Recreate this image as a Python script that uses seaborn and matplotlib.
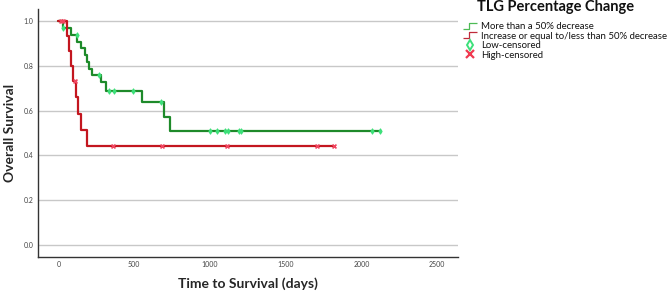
import numpy as np
import pandas as pd
import matplotlib
matplotlib.use("Agg")
import matplotlib.pyplot as plt
import seaborn as sns
from matplotlib.lines import Line2D
from matplotlib.path import Path

# ---------------- data ----------------
green_times = [0, 28, 85, 125, 152, 174, 191, 205, 225, 282, 315, 552, 700, 737, 2122]
green_surv = [1.0, 0.970, 0.939, 0.909, 0.879, 0.848, 0.818, 0.788, 0.758, 0.727, 0.690, 0.637, 0.573, 0.510, 0.510]
green_cens_t = [33, 122, 270, 337, 368, 495, 677, 1001, 1050, 1100, 1121, 1194, 1205, 2067, 2122]
green_cens_s = [0.970, 0.939, 0.758, 0.690, 0.690, 0.690, 0.637, 0.510, 0.510, 0.510, 0.510, 0.510, 0.510, 0.510, 0.510]

red_times = [0, 55, 73, 82, 95, 117, 128, 148, 187, 1819]
red_surv = [1.0, 0.933, 0.867, 0.800, 0.733, 0.660, 0.587, 0.513, 0.440, 0.440]
red_cens_t = [20, 33, 110, 360, 682, 1115, 1709, 1819]
red_cens_s = [1.0, 1.0, 0.733, 0.440, 0.440, 0.440, 0.440, 0.440]

x_ticks = [0, 500, 1000, 1500, 2000, 2500]
y_ticks = [0.0, 0.2, 0.4, 0.6, 0.8, 1.0]

legend_title = "TLG Percentage Change"
labels = ["More than a 50% decrease", "Increase or equal to/less than 50% decrease",
          "Low-censored", "High-censored"]

# ---------------- style ----------------
sns.set_theme(style="white")
plt.rcParams['font.family'] = ['Lato', 'DejaVu Sans']

GREEN_LINE = "#1e8a2a"
GREEN_MARK = "#3de07a"
RED_LINE = "#c3161f"
RED_MARK = "#f04660"

fig = plt.figure(figsize=(6.69, 2.97), dpi=100)
ax = fig.add_axes([0.0564, 0.1357, 0.6282, 0.834])

g_df = pd.DataFrame({"t": green_times, "s": green_surv})
r_df = pd.DataFrame({"t": red_times, "s": red_surv})

for yt in y_ticks:
    ax.axhline(yt, color="#c8c8c8", lw=1.0, zorder=0)

sns.lineplot(data=g_df, x="t", y="s", drawstyle="steps-post", color=GREEN_LINE,
             lw=1.6, ax=ax, zorder=3, estimator=None, sort=False)
sns.lineplot(data=r_df, x="t", y="s", drawstyle="steps-post", color=RED_LINE,
             lw=1.6, ax=ax, zorder=3, estimator=None, sort=False)

sns.scatterplot(x=green_cens_t, y=green_cens_s, marker="d", s=7, color=GREEN_MARK,
                edgecolor=GREEN_MARK, linewidth=0.8, ax=ax, zorder=4)
sns.scatterplot(x=red_cens_t, y=red_cens_s, marker="x", s=8, color=RED_MARK,
                linewidth=1.2, ax=ax, zorder=4)

ax.set_xlim(-136, 2637)
ax.set_ylim(-0.054, 1.055)
ax.set_xticks(x_ticks)
ax.set_xticklabels([str(v) for v in x_ticks])
ax.set_yticks(y_ticks)
ax.set_yticklabels([f"{v:.1f}" for v in y_ticks])
ax.tick_params(axis="both", length=0, labelsize=5, colors="#444444", pad=3)

for side in ["top", "right"]:
    ax.spines[side].set_visible(False)
for side in ["left", "bottom"]:
    ax.spines[side].set_color("#333333")
    ax.spines[side].set_linewidth(1.0)

ax.set_xlabel("Time to Survival (days)", fontsize=10, fontweight="bold")
ax.xaxis.set_label_coords(0.5, -0.085)
ax.set_ylabel("Overall Survival", fontsize=10, fontweight="bold")
ax.yaxis.set_label_coords(-0.066, 0.5)
ax.yaxis.label.set_verticalalignment("center")

# legend
fig.text(0.831, 0.976, legend_title, ha="center", va="center",
         fontsize=10.5, fontweight="bold", color="#111111")
step = Path([(-1.0, -0.45), (-0.1, -0.45), (-0.1, 0.45), (1.0, 0.45)],
            [Path.MOVETO, Path.LINETO, Path.LINETO, Path.LINETO])
handles = [
    Line2D([], [], linestyle="none", marker=step, markersize=10, markerfacecolor="none",
           markeredgecolor="#4dbb55", markeredgewidth=0.9),
    Line2D([], [], linestyle="none", marker=step, markersize=10, markerfacecolor="none",
           markeredgecolor="#c02a3a", markeredgewidth=0.9),
    Line2D([], [], linestyle="none", marker="d", markersize=5.5, markerfacecolor="none",
           markeredgecolor=GREEN_MARK, markeredgewidth=1.4),
    Line2D([], [], linestyle="none", marker="x", markersize=6, color="#f03a50",
           markeredgewidth=1.6),
]
leg = fig.legend(handles, labels, loc="upper left", bbox_to_anchor=(0.6935, 0.925),
                 frameon=False, fontsize=6.9, labelspacing=0.05, handletextpad=0.5,
                 handlelength=1.3, borderaxespad=0, borderpad=0)
for t in leg.get_texts():
    t.set_color("#111111")

fig.savefig("out.png", dpi=100)
